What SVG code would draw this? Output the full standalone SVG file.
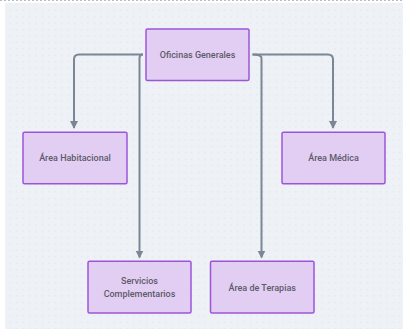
<svg xmlns="http://www.w3.org/2000/svg" width="403" height="329" viewBox="0 0 403 329">
<defs>
<pattern id="dots" width="6.5" height="6.5" patternUnits="userSpaceOnUse">
<rect x="3" y="3" width="1" height="1" fill="#d9dde3"/>
</pattern>
<marker id="arr" viewBox="0 0 8 8" refX="7" refY="4" markerWidth="4" markerHeight="4" markerUnits="strokeWidth" orient="auto">
<path d="M0,0 L8,4 L0,8 z" fill="#7b8794"/>
</marker>
<style>
.node rect{fill:#e3cef3;stroke:#9d55d8;stroke-width:1.5;}
.node text{font-family:Roboto,"Noto Sans",sans-serif;font-size:9px;fill:#5c5a6a;text-anchor:middle;font-weight:500;}
.edge{fill:none;stroke:#7b8794;stroke-width:2;marker-end:url(#arr);}
</style>
</defs>
<rect width="403" height="329" fill="#ffffff"/>
<line x1="0" y1="0.5" x2="403" y2="0.5" stroke="#b8bcc2" stroke-width="1" stroke-dasharray="2,2"/>
<rect x="5" y="3" width="398" height="326" fill="#eef2f6"/>
<rect x="5" y="3" width="398" height="326" fill="url(#dots)"/>
<g id="connectors">
<path class="edge" d="M143,54.5 H79 Q74,54.5 74,59.5 V128"/>
<path class="edge" d="M143,54.5 Q139.5,54.5 139.5,58 V257.5"/>
<path class="edge" d="M252.5,54.5 H328 Q333,54.5 333,59.5 V128"/>
<path class="edge" d="M252.5,54.5 Q261.5,54.5 261.5,58 V257.5"/>
</g>
<g id="oficinas" class="node">
<rect x="146" y="29" width="103" height="51.5" rx="1.5"/>
<text x="197.5" y="58">Oficinas Generales</text>
</g>
<g id="habitacional" class="node">
<rect x="23" y="132.3" width="104" height="51.4" rx="1.5"/>
<text x="75" y="161">Área Habitacional</text>
</g>
<g id="medica" class="node">
<rect x="282" y="132.3" width="103" height="51.4" rx="1.5"/>
<text x="333.5" y="161">Área Médica</text>
</g>
<g id="servicios" class="node">
<rect x="88" y="261.3" width="103" height="51.7" rx="1.5"/>
<text x="139.5" y="284">Servicios</text>
<text x="139.5" y="297">Complementarios</text>
</g>
<g id="terapias" class="node">
<rect x="210.5" y="261.3" width="103.5" height="51.7" rx="1.5"/>
<text x="262.2" y="291">Área de Terapias</text>
</g>
</svg>
